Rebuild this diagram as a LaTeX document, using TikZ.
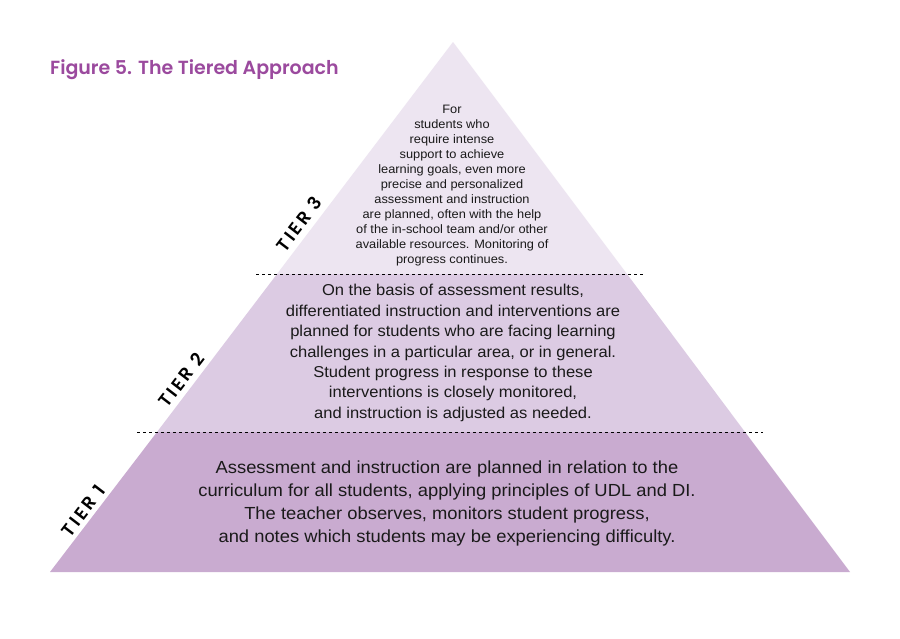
\documentclass[tikz,border=0pt]{standalone}
\usepackage{fontspec}
\setmainfont{Liberation Sans}[FakeStretch=1.05]
\newfontfamily\titlefont{Poppins SemiBold}
\newfontfamily\tierfont{Poppins SemiBold}[LetterSpace=16]
\definecolor{tthree}{HTML}{EDE5F1}
\definecolor{ttwo}{HTML}{DCCBE3}
\definecolor{tone}{HTML}{C9ABD0}
\definecolor{titlepurple}{HTML}{9B4A9E}
\definecolor{txt}{HTML}{1A1A1A}
\begin{document}
\begin{tikzpicture}[x=1pt,y=-1pt,
  sep/.style={draw=black, line width=0.9pt, dash pattern=on 3pt off 3pt},
  body/.style={align=center, text=txt, inner sep=0pt},
  tierlabel/.style={font=\tierfont\fontsize{18}{18}\selectfont, rotate=52.5, text=black, inner sep=0pt}]
\useasboundingbox (0,0) rectangle (900,638);
\fill[white] (0,0) rectangle (900,638);
\coordinate (apex) at (453,42);
\coordinate (bl) at (50,572);
\coordinate (br) at (850,572);
\coordinate (l2) at (277,274);
\coordinate (r2) at (627,274);
\coordinate (l1) at (157,432);
\coordinate (r1) at (745,432);
\fill[tone] (bl) -- (l1) -- (r1) -- (br) -- cycle;
\fill[ttwo] (l1) -- (l2) -- (r2) -- (r1) -- cycle;
\fill[tthree] (l2) -- (apex) -- (r2) -- cycle;
\coordinate (d2a) at (256,274);
\coordinate (d2b) at (645,274);
\coordinate (d1a) at (137,432);
\coordinate (d1b) at (763,432);
\draw[sep] (d2a) -- (d2b);
\draw[sep] (d1a) -- (d1b);
\node[anchor=west, text=titlepurple, inner sep=0pt, font=\titlefont\fontsize{19}{19}\selectfont] (title) at (50,70) {Figure 5. The Tiered Approach};
\node[body, font=\fontsize{12.2}{15}\selectfont] (t3) at (452,186) {For\\students who\\require intense\\support to achieve\\learning goals, even more\\precise and personalized\\assessment and instruction\\are planned, often with the help\\of the in-school team and/or other\\available resources. Monitoring of\\progress continues.};
\node[body, font=\fontsize{15.75}{20.4}\selectfont] (t2) at (453,353) {On the basis of assessment results,\\differentiated instruction and interventions are\\planned for students who are facing learning\\challenges in a particular area, or in general.\\Student progress in response to these\\interventions is closely monitored,\\and instruction is adjusted as needed.};
\node[body, font=\fontsize{17.5}{23}\selectfont] (t1) at (447,503) {Assessment and instruction are planned in relation to the\\curriculum for all students, applying principles of UDL and DI.\\The teacher observes, monitors student progress,\\and notes which students may be experiencing difficulty.};
\node[tierlabel] (tier3) at (299,224) {TIER 3};
\node[tierlabel] (tier2) at (181,380) {TIER 2};
\node[tierlabel] (tier1) at (83,511) {TIER 1};
\end{tikzpicture}
\end{document}
